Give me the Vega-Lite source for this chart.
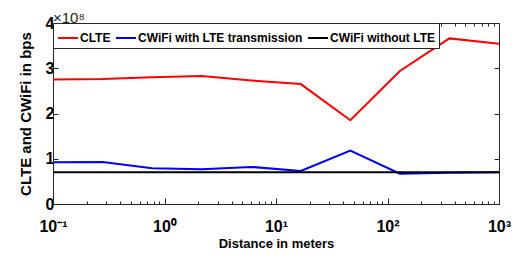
{
  "$schema": "https://vega.github.io/schema/vega-lite/v6.json",
  "width": 446,
  "height": 181,
  "autosize": {"type": "none"},
  "padding": {"left": 53, "top": 23, "right": 20, "bottom": 53},
  "background": "white",
  "title": {"text": "×10⁸", "anchor": "start", "frame": "group", "orient": "top", "offset": -11, "fontSize": 15, "font": "Liberation Sans", "fontWeight": "normal", "color": "#262626"},
  "config": {
    "view": {"stroke": "#262626", "strokeWidth": 1},
    "axis": {"domainColor": "#262626", "tickColor": "#262626", "labelColor": "#000000", "titleColor": "#000000", "labelFont": "Liberation Sans", "titleFont": "Liberation Sans", "labelFontWeight": "bold", "titleFontWeight": "bold", "grid": false, "labelFontSize": 16}
  },
  "data": {"values": [
    {"d": 0.1, "v": 2.75e8, "s": "CLTE"},
    {"d": 0.2783, "v": 2.76e8, "s": "CLTE"},
    {"d": 0.7743, "v": 2.80e8, "s": "CLTE"},
    {"d": 2.1544, "v": 2.83e8, "s": "CLTE"},
    {"d": 5.9948, "v": 2.73e8, "s": "CLTE"},
    {"d": 16.681, "v": 2.65e8, "s": "CLTE"},
    {"d": 46.416, "v": 1.85e8, "s": "CLTE"},
    {"d": 129.15, "v": 2.94e8, "s": "CLTE"},
    {"d": 359.38, "v": 3.66e8, "s": "CLTE"},
    {"d": 1000, "v": 3.54e8, "s": "CLTE"},
    {"d": 0.1, "v": 0.92e8, "s": "CWiFi with LTE transmission"},
    {"d": 0.2783, "v": 0.927e8, "s": "CWiFi with LTE transmission"},
    {"d": 0.7743, "v": 0.79e8, "s": "CWiFi with LTE transmission"},
    {"d": 2.1544, "v": 0.77e8, "s": "CWiFi with LTE transmission"},
    {"d": 5.9948, "v": 0.82e8, "s": "CWiFi with LTE transmission"},
    {"d": 16.681, "v": 0.73e8, "s": "CWiFi with LTE transmission"},
    {"d": 46.416, "v": 1.18e8, "s": "CWiFi with LTE transmission"},
    {"d": 129.15, "v": 0.67e8, "s": "CWiFi with LTE transmission"},
    {"d": 359.38, "v": 0.69e8, "s": "CWiFi with LTE transmission"},
    {"d": 1000, "v": 0.70e8, "s": "CWiFi with LTE transmission"},
    {"d": 0.1, "v": 0.70e8, "s": "CWiFi without LTE"},
    {"d": 0.2783, "v": 0.70e8, "s": "CWiFi without LTE"},
    {"d": 0.7743, "v": 0.70e8, "s": "CWiFi without LTE"},
    {"d": 2.1544, "v": 0.70e8, "s": "CWiFi without LTE"},
    {"d": 5.9948, "v": 0.70e8, "s": "CWiFi without LTE"},
    {"d": 16.681, "v": 0.70e8, "s": "CWiFi without LTE"},
    {"d": 46.416, "v": 0.70e8, "s": "CWiFi without LTE"},
    {"d": 129.15, "v": 0.70e8, "s": "CWiFi without LTE"},
    {"d": 359.38, "v": 0.70e8, "s": "CWiFi without LTE"},
    {"d": 1000, "v": 0.70e8, "s": "CWiFi without LTE"}
  ]},
  "layer": [
    {
      "mark": {"type": "line", "strokeWidth": 2, "clip": true},
      "encoding": {
        "x": {"field": "d", "type": "quantitative",
          "scale": {"type": "log", "domain": [0.1, 1000], "nice": false},
          "axis": {"orient": "bottom", "title": "Distance in meters", "titleFontSize": 13, "titlePadding": 0,
            "values": [0.1,0.2,0.3,0.4,0.5,0.6,0.7,0.8,0.9,1,2,3,4,5,6,7,8,9,10,20,30,40,50,60,70,80,90,100,200,300,400,500,600,700,800,900,1000],
            "labelExpr": "datum.value == 0.1 ? '10⁻¹' : datum.value == 1 ? '10⁰' : datum.value == 10 ? '10¹' : datum.value == 100 ? '10²' : datum.value == 1000 ? '10³' : ''",
            "tickSize": {"condition": {"test": "datum.value == 0.1 || datum.value == 1 || datum.value == 10 || datum.value == 100 || datum.value == 1000", "value": -6}, "value": -3},
            "labelPadding": 20, "labelFlush": false, "labelOverlap": false}},
        "y": {"field": "v", "type": "quantitative",
          "scale": {"domain": [0, 400000000], "nice": false},
          "axis": {"orient": "left", "title": "CLTE and CWiFi in bps", "titleFontSize": 15, "titlePadding": 12,
            "values": [0, 100000000, 200000000, 300000000, 400000000],
            "labelExpr": "format(datum.value/1e8, 'd')", "tickSize": -5, "labelPadding": 4}},
        "color": {"field": "s", "type": "nominal",
          "scale": {"domain": ["CLTE", "CWiFi with LTE transmission", "CWiFi without LTE"], "range": ["#ff0000", "#0000ff", "#000000"]},
          "legend": {"title": null, "orient": "top-left", "offset": 0, "direction": "horizontal",
            "strokeColor": "#262626", "fillColor": "white", "padding": 4,
            "symbolType": "stroke", "symbolStrokeWidth": 2, "symbolSize": 400,
            "labelFont": "Liberation Sans", "labelFontWeight": "bold", "labelFontSize": 12, "labelColor": "#000000",
            "labelOffset": 1, "columnPadding": 1, "labelLimit": 400}}
      }
    },
    {
      "mark": {"type": "point", "opacity": 0},
      "encoding": {
        "x": {"field": "d", "type": "quantitative",
          "scale": {"type": "log", "domain": [0.1, 1000], "nice": false},
          "axis": {"orient": "top", "title": null, "labels": false, "domain": false,
            "values": [0.1,0.2,0.3,0.4,0.5,0.6,0.7,0.8,0.9,1,2,3,4,5,6,7,8,9,10,20,30,40,50,60,70,80,90,100,200,300,400,500,600,700,800,900,1000],
            "tickSize": {"condition": {"test": "datum.value == 0.1 || datum.value == 1 || datum.value == 10 || datum.value == 100 || datum.value == 1000", "value": -6}, "value": -3}}},
        "y": {"field": "v", "type": "quantitative",
          "scale": {"domain": [0, 400000000], "nice": false},
          "axis": {"orient": "right", "title": null, "labels": false, "domain": false,
            "values": [0, 100000000, 200000000, 300000000, 400000000], "tickSize": -5}}
      }
    }
  ],
  "resolve": {"axis": {"x": "independent", "y": "independent"}}
}
